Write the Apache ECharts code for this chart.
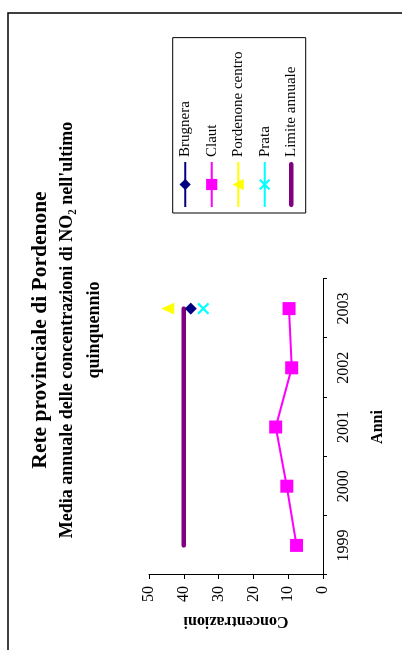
<!DOCTYPE html>
<html><head><meta charset="utf-8">
<script src="https://cdn.jsdelivr.net/npm/echarts@6/dist/echarts.min.js"></script>
<style>
html,body{margin:0;padding:0;width:402px;height:650px;overflow:hidden;background:#fff}
#chart{position:absolute;left:0;top:0;width:650px;height:402px;transform-origin:0 0;transform:translate(0,650px) rotate(-90deg);}
</style></head><body><div id="chart"></div>
<script>
const years = ['1999', '2000', '2001', '2002', '2003'];
const brugnera = [null, null, null, null, 38];
const claut = [7.6, 10.4, 13.6, 9.0, 9.75];
const pordenoneCentro = [null, null, null, null, 44.6];
const prata = [null, null, null, null, 34.4];
const limiteAnnuale = [40, 40, 40, 40, 40];
const valueMin = 0, valueMax = 50, valueStep = 10;
const titleText = 'Rete provinciale di Pordenone';
const subtitleLine1 = "Media annuale delle concentrazioni di NO\u2082 nell'ultimo";
const subtitleLine2 = 'quinquennio';
const xName = 'Anni';
const yName = 'Concentrazioni';

const FF = 'Liberation Serif';
const xPath = 'path://M0,1.3L1.3,0L5,3.7L8.7,0L10,1.3L6.3,5L10,8.7L8.7,10L5,6.3L1.3,10L0,8.7L3.7,5Z';
const thickLineIcon = 'path://M4.5,0L85.5,0A4.5,4.5,0,0,1,85.5,9L4.5,9A4.5,4.5,0,0,1,4.5,0Z';

const chart = echarts.init(document.getElementById('chart'), null, {renderer: 'canvas'});
chart.setOption({
  animation: false,
  backgroundColor: '#fff',
  textStyle: {fontFamily: FF, color: '#000'},
  graphic: [{
    type: 'rect', silent: true,
    shape: {x: -10, y: 8, width: 647, height: 420},
    style: {fill: 'none', stroke: '#000', lineWidth: 1.5}
  }],
  title: [
    {text: titleText, left: 320, top: 29, textAlign: 'center', padding: 0,
     textStyle: {fontFamily: FF, fontSize: 21.5, fontWeight: 'bold', color: '#000'}},
    {text: subtitleLine1, left: 320, top: 58, textAlign: 'center', padding: 0,
     textStyle: {fontFamily: FF, fontSize: 18, fontWeight: 'bold', color: '#000'}},
    {text: subtitleLine2, left: 320, top: 85, textAlign: 'center', padding: 0,
     textStyle: {fontFamily: FF, fontSize: 18, fontWeight: 'bold', color: '#000'}}
  ],
  legend: {
    orient: 'vertical', left: 437, top: 172.7,
    padding: [5, 14, 7, 5], itemWidth: 45, itemHeight: 14, itemGap: 11.5,
    borderColor: '#000', borderWidth: 1,
    symbolKeepAspect: true,
    textStyle: {fontFamily: FF, fontSize: 15, color: '#000', lineHeight: 14},
    data: ['Brugnera', 'Claut', 'Pordenone centro', 'Prata',
           {name: 'Limite annuale', icon: thickLineIcon}]
  },
  grid: {left: 75, right: 279, top: 149, bottom: 79, containLabel: false},
  xAxis: {
    type: 'category', data: years, boundaryGap: true,
    name: xName, nameLocation: 'middle', nameGap: 47,
    nameTextStyle: {fontFamily: FF, fontSize: 16, fontWeight: 'bold', color: '#000'},
    axisLine: {lineStyle: {color: '#000', width: 1}},
    axisTick: {show: true, inside: false, length: 4, alignWithLabel: false, lineStyle: {color: '#000'}},
    axisLabel: {fontFamily: FF, fontSize: 16, color: '#000', margin: 13},
    splitLine: {show: false}
  },
  yAxis: {
    type: 'value', min: valueMin, max: valueMax, interval: valueStep,
    name: yName, nameLocation: 'middle', nameGap: 38,
    nameTextStyle: {fontFamily: FF, fontSize: 16, fontWeight: 'bold', color: '#000'},
    axisLine: {show: true, lineStyle: {color: '#000', width: 1}},
    axisTick: {show: true, inside: false, length: 4, lineStyle: {color: '#000'}},
    axisLabel: {fontFamily: FF, fontSize: 16, color: '#000', margin: 11},
    splitLine: {show: false}
  },
  series: [
    {name: 'Brugnera', type: 'line', data: brugnera, symbol: 'diamond', symbolSize: 12,
     itemStyle: {color: '#000080'}, lineStyle: {color: '#000080', width: 2}},
    {name: 'Claut', type: 'line', data: claut, symbol: 'rect', symbolSize: 13,
     itemStyle: {color: '#FF00FF'}, lineStyle: {color: '#FF00FF', width: 2}},
    {name: 'Pordenone centro', type: 'line', data: pordenoneCentro, symbol: 'triangle', symbolSize: [12, 13],
     itemStyle: {color: '#FFFF00'}, lineStyle: {color: '#FFFF00', width: 2}},
    {name: 'Prata', type: 'line', data: prata, symbol: xPath, symbolSize: 12,
     itemStyle: {color: '#00FFFF'}, lineStyle: {color: '#00FFFF', width: 2}},
    {name: 'Limite annuale', type: 'line', data: limiteAnnuale, symbol: 'none', showSymbol: false,
     itemStyle: {color: '#800080'}, lineStyle: {color: '#800080', width: 4.5, cap: 'round'}}
  ]
});
</script></body></html>
